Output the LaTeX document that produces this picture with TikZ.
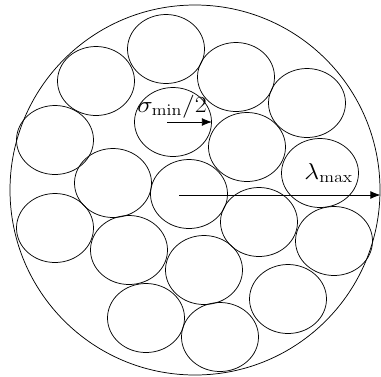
\documentclass[tikz,border=0pt]{standalone}
\usepackage{amsmath,amssymb}
\usetikzlibrary{shapes.geometric, arrows.meta, positioning, calc}

\begin{document}
\begin{tikzpicture}[
    x=0.75pt, y=-0.75pt, line width=0.55pt,
    outer/.style={circle, draw, minimum size=277.5pt, inner sep=0pt},
    grain/.style={ellipse, draw, minimum width=57.75pt, minimum height=51.75pt, inner sep=0pt},
    label/.style={font=\LARGE, xscale=1.13, inner sep=0pt, anchor=base west},
    arrow/.style={-{Latex[length=7.5pt, width=6pt]}, semithick},
]
    \useasboundingbox (0,0) rectangle (381,376);

    % Enclosing circle
    \node[outer] (cell) at (195,190) {};

    % Grains
    \node[grain] (g1) at (166,49) {};
    \node[grain] (g2) at (96,81) {};
    \node[grain] (g3) at (236,77) {};
    \node[grain] (g4) at (307,103) {};
    \node[grain] (g5) at (55,140) {};
    \node[grain] (g6) at (173,122) {};
    \node[grain] (g7) at (247,147) {};
    \node[grain] (g8) at (320,173) {};
    \node[grain] (g9) at (113,183) {};
    \node[grain] (g10) at (189,194) {};
    \node[grain] (g11) at (55,228) {};
    \node[grain] (g12) at (259,222) {};
    \node[grain] (g13) at (334,241) {};
    \node[grain] (g14) at (129,250) {};
    \node[grain] (g15) at (204,270) {};
    \node[grain] (g16) at (288,299) {};
    \node[grain] (g17) at (146,318) {};
    \node[grain] (g18) at (220,337) {};

    % Labels
    \node[label] (sigma) at (137,112) {$\sigma_{\min}/2$};
    \node[label] (lambda) at (304,179) {$\lambda_{\max}$};

    % Arrows
    \coordinate (sstart) at (167,122);
    \coordinate (lstart) at (179,195);
    \draw[arrow] (sstart) -- (g6.east);
    \draw[arrow] (lstart) -- (lstart -| cell.east);

\end{tikzpicture}
\end{document}
